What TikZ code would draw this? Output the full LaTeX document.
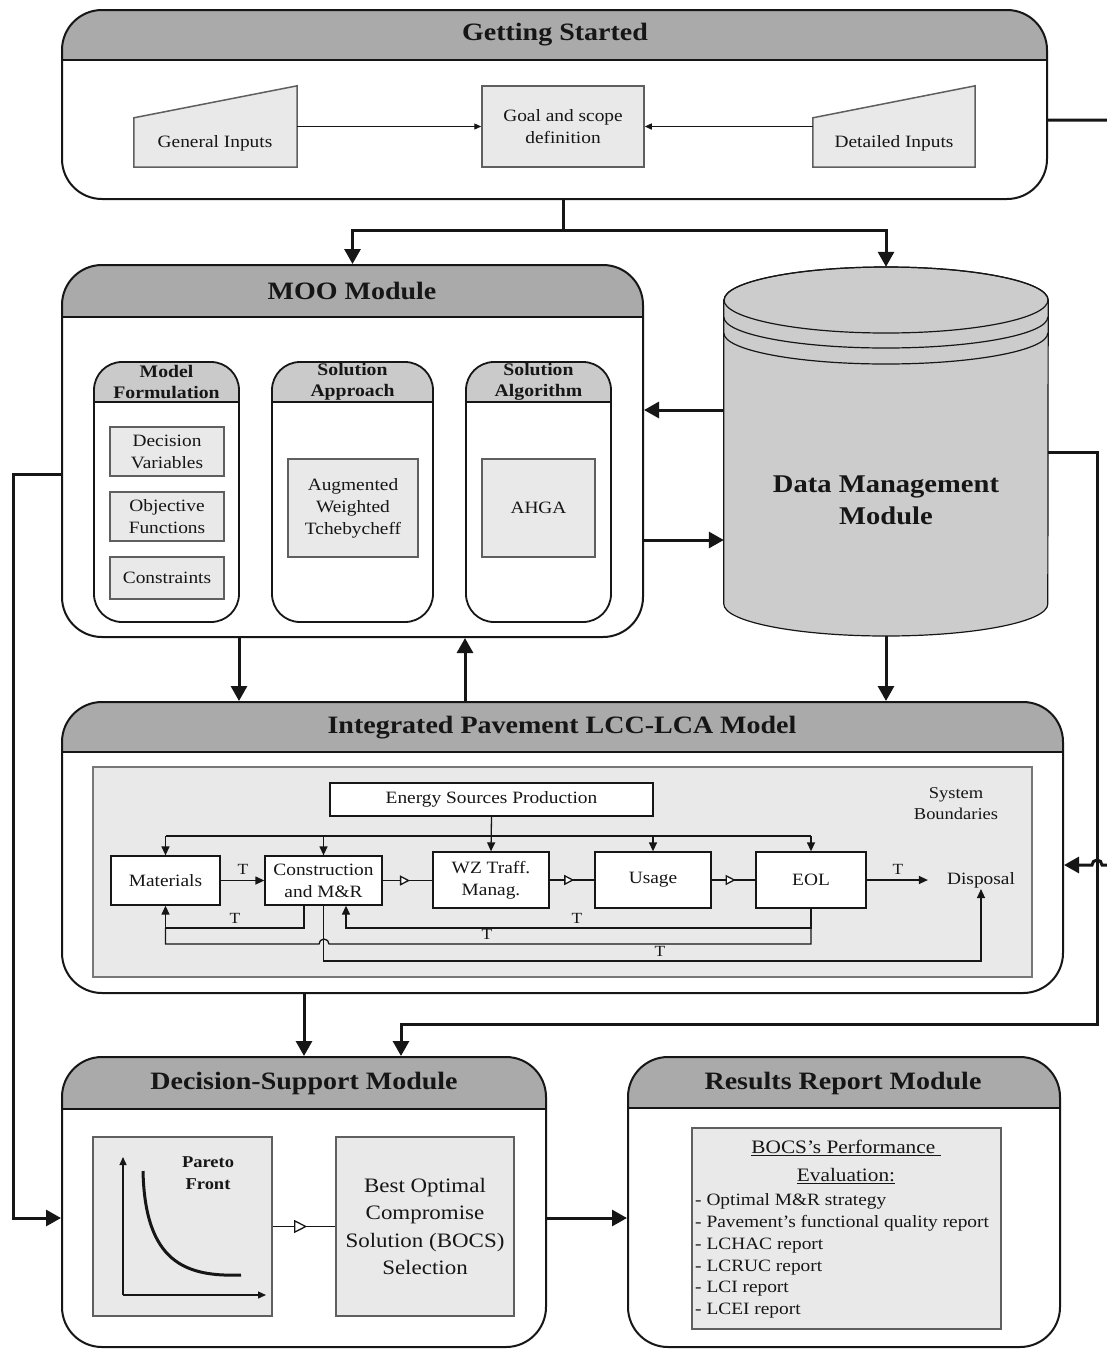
\documentclass[tikz,border=0pt]{standalone}
\usepackage{fontspec}
\setmainfont{Liberation Serif}[FakeStretch=1.12]
\usetikzlibrary{arrows.meta,decorations.markings,calc}

\definecolor{hdr}{RGB}{170,170,170}
\definecolor{subhdr}{RGB}{202,202,202}
\definecolor{boxfill}{RGB}{233,233,233}
\definecolor{boxdraw}{RGB}{95,95,95}
\definecolor{cylfill}{RGB}{204,204,204}
\definecolor{linec}{RGB}{22,22,22}

\newcommand\fs[2]{\fontsize{#1}{#2}\selectfont}

\tikzset{
  module/.style={draw=linec, line width=2pt, rounded corners=40pt, inner sep=0pt, fill=white,
    path picture={
      \fill[hdr, sharp corners] (path picture bounding box.north west) rectangle ([yshift=-#1]path picture bounding box.north east);
      \draw[line width=2pt, linec, sharp corners] ([yshift=-#1]path picture bounding box.north west) -- ([yshift=-#1]path picture bounding box.north east);}},
  subbox/.style={draw=linec, line width=1.8pt, rounded corners=28pt, inner sep=0pt, fill=white,
    path picture={
      \fill[subhdr, sharp corners] (path picture bounding box.north west) rectangle ([yshift=-#1]path picture bounding box.north east);
      \draw[line width=1.8pt, linec, sharp corners] ([yshift=-#1]path picture bounding box.north west) -- ([yshift=-#1]path picture bounding box.north east);}},
  ttl/.style={font=\fs{25}{30}\bfseries, inner sep=0pt, text=linec},
  subttl/.style={font=\fs{17.6}{21.5}\bfseries, align=center, inner sep=0pt, text=linec},
  ibox/.style={draw=boxdraw, fill=boxfill, line width=1.5pt, inner sep=0pt, align=center, font=\fs{17.3}{22}, text=linec},
  lbox/.style={draw=linec, fill=white, line width=1.3pt, inner sep=0pt, align=center, font=\fs{17.3}{22}, text=linec},
  txt/.style={inner sep=0pt, align=center, font=\fs{17.3}{22}, text=linec},
  tlab/.style={inner sep=0pt, font=\fs{15.5}{17}, text=linec},
  main/.style={line width=3pt, draw=linec, -{Triangle[length=15pt,width=16pt]}},
  mainline/.style={line width=3pt, draw=linec},
  larr/.style={line width=1.3pt, draw=linec, -{Triangle[length=9pt,width=8pt]}},
  lline/.style={line width=1.3pt, draw=linec},
  garr/.style={line width=1.3pt, draw=linec, -{Triangle[length=7pt,width=6pt]}},
  opentri/.style={line width=1.6pt, draw=linec, postaction={decorate},
    decoration={markings, mark=at position 0.55 with {\arrow{Triangle[length=#1,width=#1,fill=white,line width=1.3pt]}}}},
  cyl/.style={fill=cylfill, draw=linec, line width=1.2pt},
}

\begin{document}
\begin{tikzpicture}[x=1pt,y=-1pt]
\useasboundingbox (0,0) rectangle (1107,1350);
\fill[white] (0,0) rectangle (1107,1350);

% ---------------- Getting Started ----------------
\node[module=50pt, minimum width=985pt, minimum height=189pt] (gs) at (554.5,104.5) {};
\node[ttl] (gsT) at (555,35) {Getting Started};

\node[inner sep=0pt, minimum width=163pt, minimum height=81pt] (gin) at (215.5,126.5) {};
\filldraw[fill=boxfill, draw=boxdraw, line width=1.5pt] (gin.south west) -- (gin.south east) -- (gin.north east) -- ([yshift=-32pt]gin.north west) -- cycle;
\node[txt] (ginT) at (215,143) {General Inputs};

\node[ibox, minimum width=162pt, minimum height=81pt] (goal) at (563,126.5) {Goal and scope\\definition};

\node[inner sep=0pt, minimum width=162pt, minimum height=81pt] (din) at (894,126.5) {};
\filldraw[fill=boxfill, draw=boxdraw, line width=1.5pt] (din.south west) -- (din.south east) -- (din.north east) -- ([yshift=-32pt]din.north west) -- cycle;
\node[txt] (dinT) at (894,143) {Detailed Inputs};

\draw[garr] (gin.east) -- (goal.west);
\draw[garr] (din.west) -- (goal.east);

% ---------------- MOO Module ----------------
\node[module=52pt, minimum width=581pt, minimum height=372pt] (moo) at (352.5,451) {};
\node[ttl] (mooT) at (352,291) {MOO Module};

\node[subbox=40pt, minimum width=145pt, minimum height=260pt] (mf) at (166.5,492) {};
\node[subttl] (mfT) at (166.5,382) {Model\\Formulation};
\node[subbox=40pt, minimum width=161pt, minimum height=260pt] (sa) at (352.5,492) {};
\node[subttl] (saT) at (352.5,382) {Solution\\Approach};
\node[subbox=40pt, minimum width=145pt, minimum height=260pt] (sal) at (538.5,492) {};
\node[subttl] (salT) at (538.5,382) {Solution\\Algorithm};

\node[ibox, minimum width=114pt, minimum height=49pt] (dv) at (167,451.5) {Decision\\Variables};
\node[ibox, minimum width=114pt, minimum height=49pt] (of) at (167,516.5) {Objective\\Functions};
\node[ibox, minimum width=114pt, minimum height=42pt] (cs) at (167,578) {Constraints};
\node[ibox, minimum width=130pt, minimum height=98pt] (awt) at (353,508) {Augmented\\Weighted\\Tchebycheff};
\node[ibox, minimum width=113pt, minimum height=98pt] (ahga) at (538.5,508) {AHGA};

% ---------------- Data Management (cylinder) ----------------
\node[inner sep=0pt, minimum width=324pt, minimum height=369pt] (db) at (886,451.5) {};
\filldraw[cyl] (db.west |- 0,300) -- (db.west |- 0,604)
  arc[start angle=180, end angle=360, x radius=162pt, y radius=32pt]
  -- (db.east |- 0,300)
  arc[start angle=0, end angle=180, x radius=162pt, y radius=33pt] -- cycle;
\draw[line width=1.2pt, linec] (886,300) ellipse [x radius=162pt, y radius=33pt];
\draw[line width=1.2pt, linec] (db.west |- 0,317) arc[start angle=180, end angle=360, x radius=162pt, y radius=31pt];
\draw[line width=1.2pt, linec] (db.west |- 0,333) arc[start angle=180, end angle=360, x radius=162pt, y radius=31pt];
\node[font=\fs{25.5}{32}\bfseries, align=center, inner sep=0pt, text=linec] (dbT) at (886,500) {Data Management\\Module};

% ---------------- Integrated LCC-LCA ----------------
\node[module=50pt, minimum width=1001pt, minimum height=291pt] (lcc) at (562.5,847.5) {};
\node[ttl] (lccT) at (562,728) {Integrated Pavement LCC-LCA Model};

\node[draw=boxdraw!85, fill=boxfill, line width=1.5pt, inner sep=0pt, minimum width=939pt, minimum height=210pt] (sysb) at (562.5,872) {};
\node[txt, font=\fs{16.5}{21}] (sysT) at (956,804) {System\\Boundaries};

\node[lbox, minimum width=323pt, minimum height=33pt] (esp) at (491.5,799.5) {Energy Sources Production};
\node[lbox, minimum width=109pt, minimum height=49pt] (mat) at (165.5,880.5) {Materials};
\node[lbox, minimum width=117pt, minimum height=49pt] (con) at (323.5,880.5) {Construction\\and M\&R};
\node[lbox, minimum width=116pt, minimum height=56pt] (wz) at (491,880) {WZ Traff.\\Manag.};
\node[lbox, minimum width=116pt, minimum height=56pt] (use) at (653,880) {Usage};
\node[lbox, minimum width=110pt, minimum height=56pt] (eol) at (811,880) {EOL};
\node[txt, inner sep=1pt] (disp) at (981,880) {Disposal};

% distribution bus
\draw[lline] (mat.north |- 0,836) -- (eol.north |- 0,836);
\draw[larr] (mat.north |- 0,836) -- (mat.north);
\draw[larr] (con.north |- 0,836) -- (con.north);
\draw[larr] (use.north |- 0,836) -- (use.north);
\draw[larr] (eol.north |- 0,836) -- (eol.north);
\draw[larr] (esp.south) -- (wz.north);

% main chain
\draw[larr] (mat.east) -- (con.west);
\node[tlab] (t0) at (243,869) {T};
\draw[opentri=10pt] (con.east) -- (wz.west |- con.east);
\draw[opentri=10pt] (wz.east) -- (use.west);
\draw[opentri=10pt] (use.east) -- (eol.west);
\draw[larr] (eol.east) -- ([xshift=-18pt]disp.west);
\node[tlab] (t5) at (898,869) {T};

% feedback loops
\draw[larr] (con.south -| 304,0) |- (mat.south |- 0,928) -- (mat.south);
\node[tlab] (t1) at (235,918) {T};
\draw[larr] (eol.south) |- (346,928) -- (con.south -| 346,0);
\node[tlab] (t2) at (577,918) {T};
\draw[lline] (eol.south) -- (eol.south |- 0,944) -- (329,944)
  arc[start angle=0, end angle=180, radius=5pt] -- (mat.south |- 0,944) -- (mat.south |- 0,928);
\node[tlab] (t3) at (487,934) {T};
\draw[larr] (con.south) |- (disp.south |- 0,961) -- (disp.south);
\node[tlab] (t4) at (660,951) {T};

% ---------------- Decision-Support ----------------
\node[module=52pt, minimum width=484pt, minimum height=290pt] (ds) at (304,1202) {};
\node[ttl] (dsT) at (304,1083) {Decision-Support Module};

\node[ibox, minimum width=179pt, minimum height=179pt] (pf) at (182.5,1226.5) {};
\node[subttl, font=\fs{16.5}{22}\bfseries] (pfT) at (208,1173) {Pareto\\Front};
\coordinate (org) at (123,1295);
\draw[line width=1.3pt, linec, -{Triangle[length=8pt,width=7pt]}] (org) -- (123,1157);
\draw[line width=1.3pt, linec, -{Triangle[length=8pt,width=7pt]}] (org) -- (266,1295);
\draw[line width=3pt, linec] (143,1171) .. controls (145,1262) and (185,1277) .. (241,1275);

\node[ibox, minimum width=178pt, minimum height=179pt, font=\fs{20.5}{27.5}] (bocs) at (425,1226.5) {Best Optimal\\Compromise\\Solution (BOCS)\\Selection};
\draw[opentri=13pt] (pf.east) -- (bocs.west);

% ---------------- Results Report ----------------
\node[module=51pt, minimum width=432pt, minimum height=290pt] (rr) at (844,1202) {};
\node[ttl] (rrT) at (843,1083) {Results Report Module};
\node[ibox, minimum width=309pt, minimum height=201pt] (rrb) at (846.5,1228.5) {};
\node[txt, font=\fs{19}{28}] (rrH) at (846,1162) {\underline{BOCS's Performance\ }\\\underline{Evaluation:}};
\node[txt, font=\fs{17.3}{21.8}, align=left, anchor=west] (rrL) at (695,1256) {- Optimal M\&R strategy\\- Pavement's functional quality report\\- LCHAC report\\- LCRUC report\\- LCI report\\- LCEI report};

% ---------------- Connectors between modules ----------------
\draw[mainline] (gs.south -| goal.south) -- (goal.south |- 0,230);
\draw[main] (goal.south |- 0,230) -| (moo.north);
\draw[main] (goal.south |- 0,230) -| (db.north);

\draw[main] (db.west |- 0,410) -- (moo.east |- 0,410);
\draw[main] (moo.east |- 0,540) -- (db.west |- 0,540);

\draw[main] (moo.south -| 239,0) -- (lcc.north -| 239,0);
\draw[main] (lcc.north -| 465,0) -- (moo.south -| 465,0);
\draw[main] (db.south) -- (lcc.north -| db.south);

\draw[main] (lcc.south -| ds.north) -- (ds.north);
\draw[main] (db.east |- 0,452) -| (1097,1024) -| (ds.north -| 401,0);

\draw[main] (gs.east |- 0,120) -- (1130,120) -- (1130,865) -- (1102,865)
  arc[start angle=0, end angle=180, radius=5pt] -- (lcc.east |- 0,865);

\draw[main] (moo.west |- 0,474) -- (13,474) |- (ds.west |- 0,1218);
\draw[main] (ds.east |- 0,1218) -- (rr.west |- 0,1218);
\end{tikzpicture}
\end{document}
